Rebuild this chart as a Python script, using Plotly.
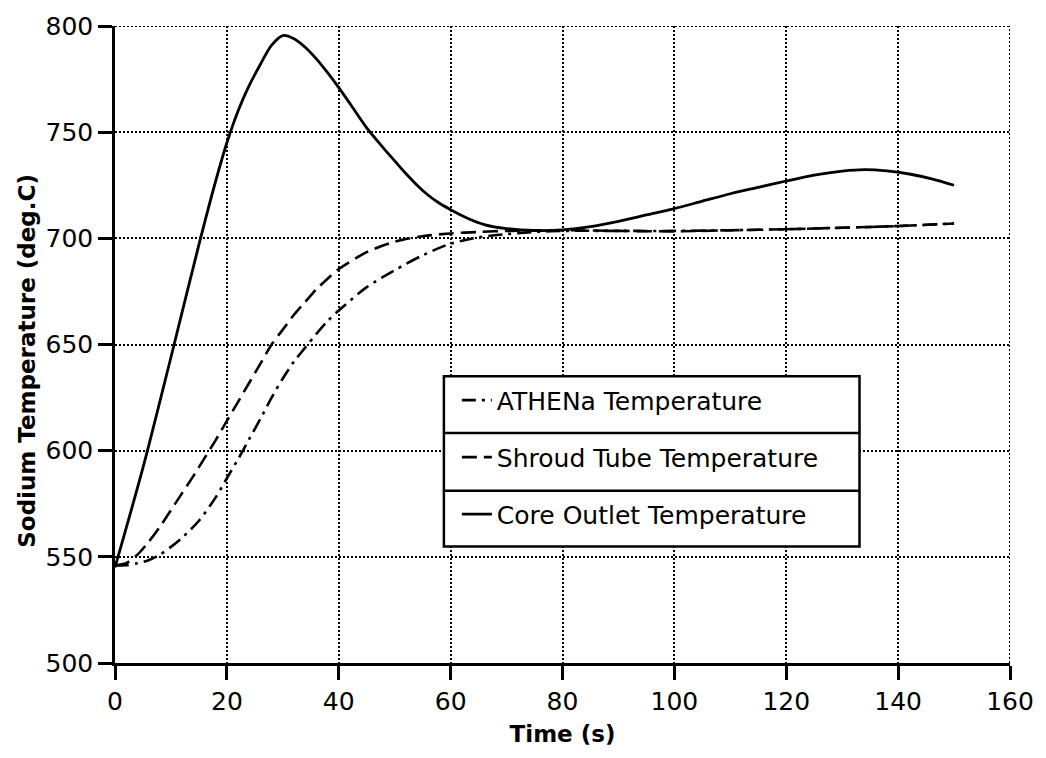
import plotly.graph_objects as go

# ---- data ----
core_t = [0, 5, 10, 15, 18, 20, 22, 24, 26, 28, 30, 32, 34, 36, 38, 40, 42, 45, 48, 50, 52, 54, 56, 58, 60, 63, 66, 70, 75, 80, 85, 90, 95, 100, 105, 110, 115, 120, 125, 130, 134, 138, 142, 146, 150]
core_T = [545, 592, 644, 697, 727, 745, 760, 772, 782, 791, 795.5, 794, 790, 784.5, 778, 771, 763.5, 752, 742.5, 736.5, 730.5, 725, 720.3, 716.5, 713.5, 709.5, 706.5, 704.6, 703.7, 704, 705.5, 708, 711, 714, 717.5, 721, 724, 727, 729.8, 731.7, 732.4, 731.8, 730.3, 728, 725]

shroud_t = [0, 2, 4, 6, 8, 10, 12, 14, 16, 18, 20, 22, 24, 26, 28, 30, 32, 34, 36, 38, 40, 45, 50, 55, 60, 65, 70, 80, 90, 100, 110, 120, 130, 140, 150]
shroud_T = [546, 547, 551, 557, 564, 572, 580, 588, 596.5, 605, 614, 623, 632, 641, 650, 657, 664, 670, 676, 681, 685.5, 693.5, 698.4, 701, 702.3, 703, 703.5, 703.8, 703.5, 703.3, 703.8, 704.3, 705, 705.8, 707]

athena_t = [0, 2, 4, 6, 8, 10, 12, 15, 18, 20, 22, 24, 26, 28, 30, 32, 34, 36, 38, 40, 45, 50, 55, 60, 65, 70, 75, 80, 90, 100, 110, 120, 130, 140, 150]
athena_T = [546, 546, 547, 548.4, 551, 554.7, 559, 567, 578, 587, 596, 605.5, 615, 625, 634, 642, 648.5, 655, 661, 666, 677, 685, 692, 697.5, 700.5, 702, 703, 703.5, 703.5, 703.5, 703.8, 704.3, 705, 705.8, 707]

x_ticks = [0, 20, 40, 60, 80, 100, 120, 140, 160]
y_ticks = [500, 550, 600, 650, 700, 750, 800]

FONT = "DejaVu Sans"

fig = go.Figure()
fig.add_trace(go.Scatter(x=athena_t, y=athena_T, mode="lines", name="ATHENa Temperature",
                         legendgroup="a", line=dict(color="black", width=2.6, dash="14px,6px,3px,6px", shape="spline", smoothing=0.8)))
fig.add_trace(go.Scatter(x=shroud_t, y=shroud_T, mode="lines", name="Shroud Tube Temperature",
                         legendgroup="b", line=dict(color="black", width=2.6, dash="15px,7px", shape="spline", smoothing=0.8)))
fig.add_trace(go.Scatter(x=core_t, y=core_T, mode="lines", name="Core Outlet Temperature",
                         legendgroup="c", line=dict(color="black", width=2.8, shape="spline", smoothing=0.8)))

# dotted grid lines on the top and right edges
fig.add_shape(type="line", xref="x", yref="y", x0=0, x1=160, y0=800, y1=800,
              line=dict(color="black", width=2, dash="2px,2px"))
fig.add_shape(type="line", xref="x", yref="y", x0=160, x1=160, y0=500, y1=800,
              line=dict(color="black", width=2, dash="2px,2px"))

# legend frame with separators (paper coordinates)
L, R, T, B = 445, 862, 375, 546
def px2paper_x(p):
    return (p - 115) / 898
def px2paper_y(p):
    return (663 - p) / 640
fig.add_shape(type="rect", xref="paper", yref="paper", x0=px2paper_x(L), x1=px2paper_x(R),
              y0=px2paper_y(B), y1=px2paper_y(T), line=dict(color="black", width=2.5), fillcolor="white", layer="above")
for yy in (432, 490):
    fig.add_shape(type="line", xref="paper", yref="paper", x0=px2paper_x(L), x1=px2paper_x(R),
                  y0=px2paper_y(yy), y1=px2paper_y(yy), line=dict(color="black", width=2.5), layer="above")

fig.add_annotation(text="<b>Sodium Temperature (deg.C)</b>", xref="paper", yref="paper",
                   x=px2paper_x(27), y=px2paper_y(359), textangle=-90, showarrow=False,
                   font=dict(family=FONT, size=23, color="black"), xanchor="center", yanchor="middle")

fig.update_layout(
    width=1046, height=758,
    margin=dict(l=115, r=33, t=23, b=95),
    paper_bgcolor="white", plot_bgcolor="white",
    font=dict(family=FONT, size=25, color="black"),
    showlegend=True,
    legend=dict(x=px2paper_x(458), y=px2paper_y(376), xanchor="left", yanchor="top",
                bgcolor="rgba(0,0,0,0)", borderwidth=0, traceorder="grouped", tracegroupgap=21.5,
                font=dict(family=FONT, size=25, color="black")),
    xaxis=dict(range=[0, 160], tickvals=x_ticks, ticktext=[str(v) for v in x_ticks],
               showline=True, linecolor="black", linewidth=2.5,
               ticks="outside", ticklen=14, tickwidth=2.5, tickcolor="black",
               showgrid=True, gridcolor="black", gridwidth=2, griddash="2px,2px",
               zeroline=False,
               title=dict(text="<b>Time (s)</b>", font=dict(family=FONT, size=23, color="black"), standoff=12),
               tickfont=dict(family=FONT, size=25, color="black")),
    yaxis=dict(range=[500, 800], tickvals=y_ticks, ticktext=[str(v) for v in y_ticks],
               showline=True, linecolor="black", linewidth=2.5,
               ticks="outside", ticklen=14, tickwidth=2.5, tickcolor="black",
               showgrid=True, gridcolor="black", gridwidth=2, griddash="2px,2px",
               zeroline=False,
               tickfont=dict(family=FONT, size=25, color="black")),
)

fig.write_html("out.html")
